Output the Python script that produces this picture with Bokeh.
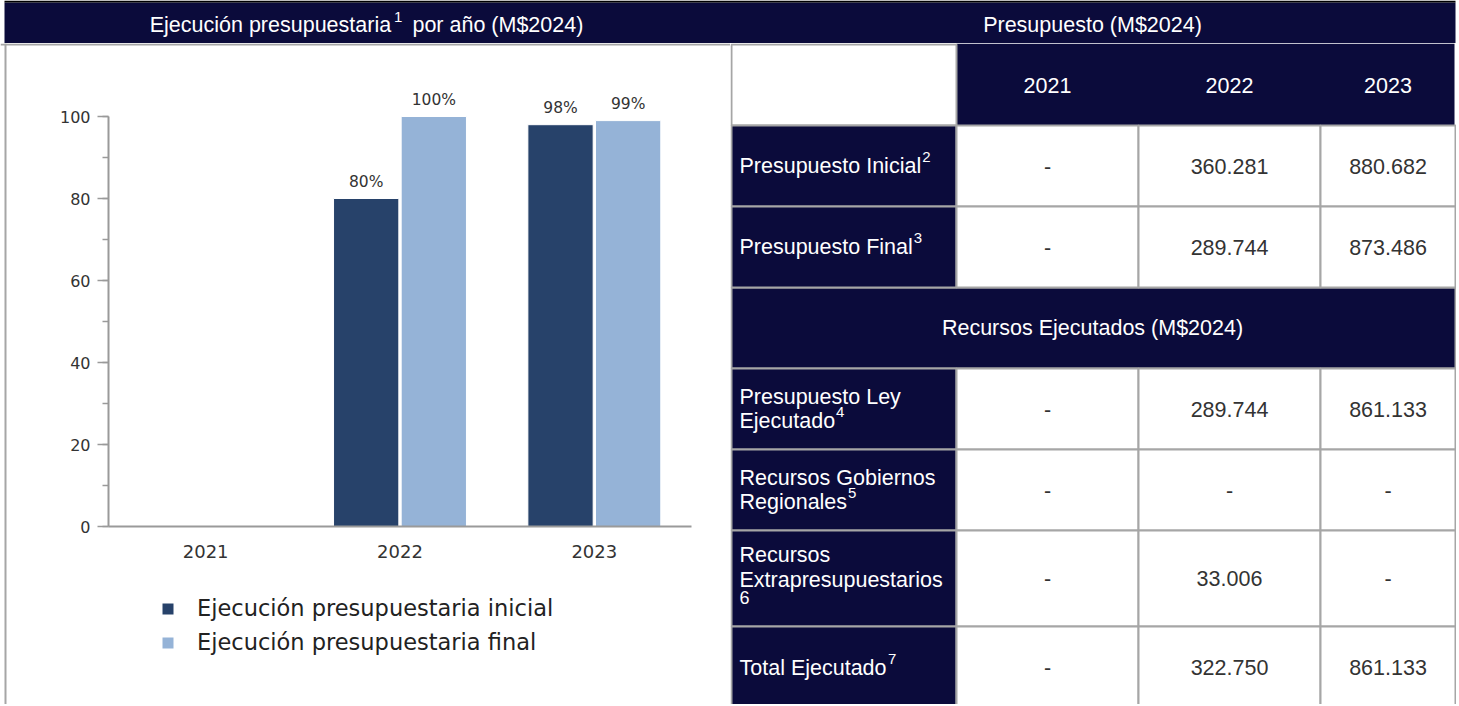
import numpy as np
from bokeh.plotting import figure
from bokeh.layouts import column, row
from bokeh.models import (ColumnDataSource, Range1d, Span, Legend, LegendItem,
                          FixedTicker, SingleIntervalTicker)
from bokeh.transform import dodge
from bokeh.core.properties import value
from bokeh.embed import file_html
from bokeh.resources import INLINE

# ---------------- data ----------------
years = ["2021", "2022", "2023"]
ejec_inicial = [np.nan, 80, 98]
ejec_final = [np.nan, 100, 99]
series_names = ["Ejecución presupuestaria inicial", "Ejecución presupuestaria final"]

left_title = ["Ejecución presupuestaria", "1", "por año (M$2024)"]
right_title = "Presupuesto (M$2024)"
section_title = "Recursos Ejecutados (M$2024)"

presupuesto_inicial = ["-", "360.281", "880.682"]
presupuesto_final = ["-", "289.744", "873.486"]
ley_ejecutado = ["-", "289.744", "861.133"]
gobiernos_regionales = ["-", "-", "-"]
extrapresupuestarios = ["-", "33.006", "-"]
total_ejecutado = ["-", "322.750", "861.133"]

row_label_lines = [["Presupuesto Inicial"], ["Presupuesto Final"],
                   ["Presupuesto Ley", "Ejecutado"], ["Recursos Gobiernos", "Regionales"],
                   ["Recursos", "Extrapresupuestarios"], ["Total Ejecutado"]]
row_notes = ["2", "3", "4", "5", "6", "7"]
row_values = [presupuesto_inicial, presupuesto_final, ley_ejecutado,
              gobiernos_regionales, extrapresupuestarios, total_ejecutado]

# ---------------- style ----------------
NAVY = "#0b0b3b"
GRIDC = "#a6a6a6"
DARK = "#27426a"
LIGHT = "#95b3d7"
FONT = "Liberation Sans"
CFONT = "DejaVu Sans"

AW = {' ': 278, '(': 333, ')': 333, '$': 556, '.': 278, '-': 333,
      'A': 667, 'B': 667, 'C': 722, 'D': 722, 'E': 667, 'F': 611, 'G': 778, 'I': 278,
      'L': 556, 'M': 833, 'P': 667, 'R': 722, 'T': 611,
      'a': 556, 'b': 556, 'c': 500, 'd': 556, 'e': 556, 'f': 278, 'g': 556, 'i': 222,
      'j': 222, 'l': 222, 'n': 556, 'o': 556, 'p': 556, 'r': 333, 's': 500, 't': 278,
      'u': 556, 'x': 500, 'y': 500, 'ó': 556, 'ñ': 556}


def tw(s, size):
    return sum(AW.get(c, 556) for c in s) / 1000.0 * size


W, H = 1456, 704
BAND_H = 43
BODY_H = H - BAND_H
CHART_W = 730
TABLE_W = W - CHART_W
TS, SS = 21.5, 15


def plain_fig(w, h, xr, yr):
    f = figure(width=w, height=h, x_range=xr, y_range=yr, output_backend="svg",
               toolbar_location=None, x_axis_location=None, y_axis_location=None,
               min_border=0, outline_line_color=None)
    f.grid.visible = False
    return f


# ---------------- header band ----------------
band = plain_fig(W, BAND_H, Range1d(0, W), Range1d(BAND_H, 0))
band.background_fill_color = "white"
band.border_fill_color = "white"
band.quad(left=[4], right=[1455], top=[2], bottom=[BAND_H], fill_color=NAVY, line_color=None)
band.quad(left=[4], right=[1455], top=[0], bottom=[2], fill_color="black", line_color=None)

w1, ws, w2 = tw(left_title[0], TS), tw(left_title[1], SS), tw(left_title[2], TS)
GAP1, GAP2 = 3, 10
x0 = 366 - (w1 + GAP1 + ws + GAP2 + w2) / 2
TY = 24
band.text(x=[x0, x0 + w1 + GAP1 + ws + GAP2], y=[TY, TY], text=[left_title[0], left_title[2]],
          text_font=value(FONT), text_font_size=f"{TS}px", text_color="white",
          text_align="left", text_baseline="middle")
band.text(x=[x0 + w1 + GAP1], y=[TY - 8], text=[left_title[1]], text_font=value(FONT),
          text_font_size=f"{SS}px", text_color="white", text_align="left", text_baseline="middle")
band.text(x=[1092], y=[TY], text=[right_title], text_font=value(FONT),
          text_font_size=f"{TS}px", text_color="white", text_align="center", text_baseline="middle")

# ---------------- chart ----------------
CX0, UX = 205.17, 194.33   # px of first category centre, px per category
CY0, UY = 483.0, 4.1       # px of value 0 (from top of chart panel), px per unit
chart = figure(width=CHART_W, height=BODY_H, output_backend="svg", toolbar_location=None,
               x_range=Range1d(-CX0 / UX, (CHART_W - CX0) / UX),
               y_range=Range1d(-(BODY_H - CY0) / UY, CY0 / UY),
               min_border=0, outline_line_color=None)
chart.grid.visible = False
chart.background_fill_color = "white"
chart.border_fill_color = "white"

AXC = "#9a9a9a"
chart.xaxis.fixed_location = 0
chart.yaxis.fixed_location = -0.5
chart.xaxis.bounds = (-0.5, len(years) - 0.5)
chart.yaxis.bounds = (0, 100)
chart.xaxis.ticker = FixedTicker(ticks=list(range(len(years))))
chart.xaxis.major_label_overrides = {i: y for i, y in enumerate(years)}
chart.xaxis.major_tick_out = 0
chart.xaxis.major_tick_in = 0
chart.xaxis.minor_tick_out = 0
chart.xaxis.minor_tick_in = 0
chart.xaxis.major_label_standoff = 18
chart.yaxis.ticker = SingleIntervalTicker(interval=20, num_minor_ticks=2)
chart.yaxis.major_tick_out = 11
chart.yaxis.major_tick_in = 0
chart.yaxis.minor_tick_out = 6
chart.yaxis.minor_tick_in = 0
chart.yaxis.major_label_standoff = 7
for ax in (chart.xaxis[0], chart.yaxis[0]):
    ax.axis_line_color = AXC
    ax.axis_line_width = 2
    ax.major_tick_line_color = AXC
    ax.major_tick_line_width = 1.5
    ax.minor_tick_line_color = AXC
    ax.minor_tick_line_width = 1.5
    ax.major_label_text_font = CFONT
    ax.major_label_text_color = "#333333"
chart.xaxis.major_label_text_font_size = "18px"
chart.yaxis.major_label_text_font_size = "16px"


def pct(v):
    return "" if np.isnan(v) else f"{v:.0f}%"


src = ColumnDataSource(dict(
    x=np.arange(len(years)), year=years,
    inicial=np.array(ejec_inicial, dtype=float), final=np.array(ejec_final, dtype=float),
    lab_i=[pct(v) for v in ejec_inicial], lab_f=[pct(v) for v in ejec_final]))

OFF, BW = 0.174, 0.336
r1 = chart.vbar(x=dodge("x", -OFF), top="inicial", bottom=0, width=BW, source=src,
                fill_color=DARK, line_color="white", line_width=1)
r2 = chart.vbar(x=dodge("x", OFF), top="final", bottom=0, width=BW, source=src,
                fill_color=LIGHT, line_color="white", line_width=1)
for fld, lab, off in (("inicial", "lab_i", -OFF), ("final", "lab_f", OFF)):
    chart.text(x=dodge("x", off), y=fld, text=lab, source=src, text_align="center",
               text_baseline="middle", y_offset=-17, text_font=value(CFONT),
               text_font_size="15.5px", text_color="#333333")

chart.add_layout(Span(location=CY0 / UY - 1 / UY, dimension="width", line_color=GRIDC, line_width=2))
chart.add_layout(Span(location=-CX0 / UX + 5 / UX, dimension="height", line_color=GRIDC, line_width=2))

legend = Legend(items=[LegendItem(label=series_names[0], renderers=[r1]),
                       LegendItem(label=series_names[1], renderers=[r2])],
                location=(160, 49), orientation="vertical", glyph_width=15, glyph_height=15,
                label_standoff=22, spacing=8, padding=0, margin=0, label_height=26,
                border_line_alpha=0, background_fill_alpha=0,
                label_text_font=CFONT, label_text_font_size="22.5px", label_text_color="#222222")
chart.add_layout(legend)

# ---------------- table ----------------
table = plain_fig(TABLE_W, BODY_H, Range1d(0, TABLE_W), Range1d(BODY_H, 0))
table.background_fill_color = "white"
table.border_fill_color = "white"
ROWS = [1, 82, 163, 244, 325, 406, 487, 583, 668]
COLS = [1, 226, 408, 590, 725]
data_rows = [(ROWS[1], ROWS[2]), (ROWS[2], ROWS[3]), (ROWS[4], ROWS[5]),
             (ROWS[5], ROWS[6]), (ROWS[6], ROWS[7]), (ROWS[7], ROWS[8])]

# year header
table.quad(left=[COLS[1]], right=[COLS[4] - 1], top=[0], bottom=[ROWS[1]], fill_color=NAVY, line_color=None)
table.quad(left=[COLS[0]], right=[COLS[1]], top=[ROWS[0]], bottom=[ROWS[1]],
           fill_color="white", line_color=GRIDC, line_width=2)
# section header
table.quad(left=[COLS[0]], right=[COLS[4]], top=[ROWS[3]], bottom=[ROWS[4]],
           fill_color=NAVY, line_color=GRIDC, line_width=2)
# label cells
table.quad(left=[COLS[0]] * 6, right=[COLS[1]] * 6, top=[a for a, b in data_rows],
           bottom=[b for a, b in data_rows], fill_color=NAVY, line_color=GRIDC, line_width=2)
# data cells
ql, qr, qt, qb = [], [], [], []
for a, b in data_rows:
    for c in range(3):
        ql.append(COLS[c + 1]); qr.append(COLS[c + 2]); qt.append(a); qb.append(b)
table.quad(left=ql, right=qr, top=qt, bottom=qb, fill_color="white", line_color=GRIDC, line_width=2)

col_centers = [(COLS[c + 1] + COLS[c + 2]) / 2 for c in range(3)]
table.text(x=col_centers, y=[(ROWS[0] + ROWS[1]) / 2] * 3, text=years, text_font=value(FONT),
           text_font_size=f"{TS}px", text_color="white", text_align="center", text_baseline="middle")
table.text(x=[362], y=[(ROWS[3] + ROWS[4]) / 2], text=[section_title], text_font=value(FONT),
           text_font_size=f"{TS}px", text_color="white", text_align="center", text_baseline="middle")

vx, vy, vt = [], [], []
for (a, b), vals in zip(data_rows, row_values):
    for c, v in enumerate(vals):
        vx.append(col_centers[c]); vy.append((a + b) / 2 if b < 600 else 624); vt.append(v)
table.text(x=vx, y=vy, text=vt, text_font=value(FONT), text_font_size=f"{TS}px",
           text_color="#333333", text_align="center", text_baseline="middle")

LX = 9
LINE = 24
lx, ly, lt, sx, sy, st, ss = [], [], [], [], [], [], []
for (a, b), lines, note in zip(data_rows, row_label_lines, row_notes):
    cy = (a + b) / 2 if b < 600 else 624
    last_w = tw(lines[-1], TS)
    if LX + last_w + tw(note, SS) > COLS[1] - 6:
        ys = [cy - 24, cy + 1]
        sx.append(LX); sy.append(cy + 19); st.append(note); ss.append("18px")
    else:
        n = len(lines)
        ys = [cy + (k - (n - 1) / 2) * LINE for k in range(n)]
        kern = -2 if lines[-1].startswith("To") else 0
        sx.append(LX + last_w + 1 + kern); sy.append(ys[-1] - 9); st.append(note); ss.append(f"{SS}px")
    for t, yy in zip(lines, ys):
        lx.append(LX); ly.append(yy); lt.append(t)
table.text(x=lx, y=ly, text=lt, text_font=value(FONT), text_font_size=f"{TS}px",
           text_color="white", text_align="left", text_baseline="middle")
sup_src = ColumnDataSource(dict(x=sx, y=sy, text=st, size=ss))
table.text(x="x", y="y", text="text", text_font_size="size", source=sup_src, text_font=value(FONT),
           text_color="white", text_align="left", text_baseline="middle")

layout = column(band, row(chart, table, spacing=0), spacing=0)
open("out.html", "w").write(file_html(layout, INLINE))
